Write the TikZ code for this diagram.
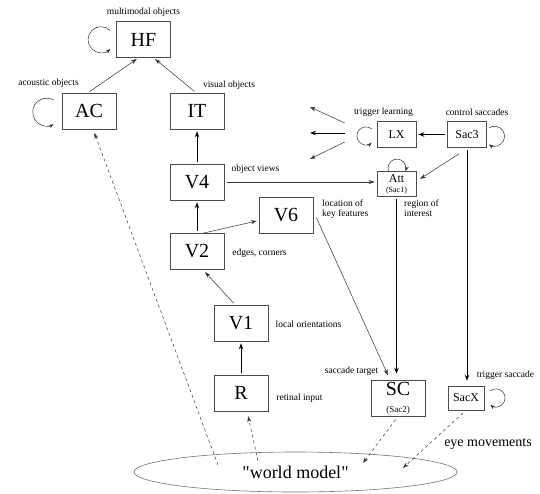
\documentclass[tikz,border=0pt]{standalone}
\usepackage{fontspec}
\setmainfont{Liberation Serif}[Ligatures=TeXOff]
\usetikzlibrary{arrows.meta,shapes.geometric}

\begin{document}
\begin{tikzpicture}[x=1pt, y=1pt,
    area/.style={draw=black!70, line width=0.6pt, minimum width=54pt, minimum height=36pt, inner sep=0pt, font=\fontsize{20}{22}\selectfont},
    smallarea/.style={draw=black!70, line width=0.6pt, minimum width=39pt, minimum height=26pt, inner sep=0pt, font=\fontsize{12}{13}\selectfont},
    note/.style={inner sep=0pt, font=\fontsize{9.5}{10}\selectfont, align=left},
    link/.style={draw=black!80, line width=0.5pt, -{Stealth[length=6pt,width=4pt]}},
    mainlink/.style={draw=black, line width=1pt, -{Stealth[length=6pt,width=4.5pt]}},
    selflink/.style={draw=black!80, line width=0.5pt, -{Stealth[length=5pt,width=3.5pt]}},
    eyelink/.style={draw=black!80, line width=0.5pt, dash pattern=on 3pt off 3pt, -{Stealth[length=6pt,width=4pt]}}]
    \useasboundingbox (0,0) rectangle (540,-493);
    % areas
    \node[area] (HF) at (143.5,-39.5) {HF};
    \node[area] (AC) at (89,-111) {AC};
    \node[area] (IT) at (197,-111) {IT};
    \node[area] (V4) at (197,-182) {V4};
    \node[area] (V6) at (286,-215.5) {V6};
    \node[area] (V2) at (197,-251.5) {V2};
    \node[area] (V1) at (241,-323) {V1};
    \node[area] (R) at (241,-393) {R};
    \node[area, align=center] (SC) at (398,-398) {SC\\[-5pt]{\fontsize{9}{9}\selectfont(Sac2)}};
    \node[smallarea] (LX) at (396.5,-134.5) {LX};
    \node[smallarea] (Sac3) at (467,-134.5) {Sac3};
    \node[smallarea, minimum height=25pt, align=center] (Att) at (396.5,-184) {Att\\[-3pt]{\fontsize{8}{8}\selectfont(Sac1)}};
    \node[smallarea, minimum width=36pt, minimum height=24pt] (SacX) at (466,-398) {SacX};
    \node[ellipse, draw=black!55, line width=0.6pt, minimum width=323pt, minimum height=40pt, inner sep=0pt, font=\fontsize{18}{20}\selectfont] (wm) at (295.5,-472) {"world model"};
    % labels
    \node[note] (lHF) at (143.5,-12) {multimodal objects};
    \node[note] (lAC) at (48.5,-83) {acoustic objects};
    \node[note] (lIT) at (229,-85) {visual objects};
    \node[note] (lLX) at (383.5,-112) {trigger learning};
    \node[note] (lSac3) at (477,-112) {control saccades};
    \node[note] (lV4) at (255.5,-169) {object views};
    \node[note, anchor=north west] (lV6) at (322,-200) {location of\\key features};
    \node[note, anchor=north west] (lAtt) at (404,-200) {region of\\interest};
    \node[note] (lV2) at (259.5,-253) {edges, corners};
    \node[note] (lV1) at (308.5,-324) {local orientations};
    \node[note] (lR) at (299.5,-398) {retinal input};
    \node[note] (lSC) at (351.5,-371) {saccade target};
    \node[note] (lSacX) at (505.5,-375) {trigger saccade};
    \node[note, font=\fontsize{14}{16}\selectfont] (lEye) at (488,-444) {eye movements};
    % free ends
    \coordinate (toAC) at (218,-465);
    \coordinate (toR) at (258,-461);
    \coordinate (fromSC) at (363,-463);
    \coordinate (fromSacX) at (403,-468);
    \foreach \i/\ey in {1/107, 2/133, 3/159} {
        \coordinate (out\i) at (310,-\ey);
    }
    % ventral and dorsal paths
    \draw[link, shorten <=2pt, shorten >=2pt] ([xshift=-1pt]AC.north) -- ([xshift=-5pt]HF.south);
    \draw[link, shorten <=2pt, shorten >=2pt] ([xshift=-1pt]IT.north) -- ([xshift=10pt]HF.south);
    \draw[mainlink, shorten <=2pt, shorten >=2pt] (V4.north) -- (IT.south);
    \draw[mainlink, shorten <=2pt, shorten >=2pt] (V2.north) -- (V4.south);
    \draw[link, shorten >=2pt] ([xshift=6pt]V2.north) -- ([yshift=-5pt]V6.west);
    \draw[link, shorten <=2pt, shorten >=3pt] ([xshift=-6pt]V1.north) -- ([xshift=6pt]V2.south);
    \draw[mainlink, shorten <=2pt, shorten >=2pt] (R.north) -- (V1.south);
    \draw[link, shorten <=3pt, shorten >=2pt] (V4.east) -- (V4.east -| Att.west);
    \draw[link, shorten >=5pt] ([shift={(3pt,-2pt)}]V6.east) -- ([xshift=-8pt]SC.north);
    % saccade control
    \draw[mainlink, shorten <=2pt, shorten >=6pt] (Att.south) -- (Att.south |- SC.north);
    \draw[link, shorten >=2pt] ([shift={(-8pt,-6pt)}]Sac3.south) -- ([shift={(2pt,4pt)}]Att.east);
    \draw[mainlink, shorten <=2pt, shorten >=5pt] (Sac3.south) -- (Sac3.south |- SacX.north);
    \draw[mainlink, shorten <=2pt, shorten >=2pt] (Sac3.west) -- (LX.east);
    \foreach \i/\dy/\s in {1/11.5/link, 2/1.5/mainlink, 3/-7.5/link} {
        \draw[\s] ([shift={(-32pt,\dy pt)}]LX.west) -- (out\i);
    }
    % world model
    \draw[eyelink, shorten <=4pt] (SC.south) -- (fromSC);
    \draw[eyelink, shorten <=4pt] (SacX.south) -- (fromSacX);
    \draw[eyelink, shorten >=5pt] (toR) -- ([xshift=6pt]R.south);
    \draw[eyelink, shorten >=4pt] (toAC) -- ([xshift=4pt]AC.south);
    % recurrent loops
    \draw[selflink] ([shift={(-6pt,9pt)}]HF.west) arc[start angle=45, end angle=315, radius=13pt];
    \draw[selflink] ([shift={(-8pt,11pt)}]AC.west) arc[start angle=60, end angle=300, radius=14pt];
    \draw[selflink] ([shift={(-5pt,5.5pt)}]LX.west) arc[start angle=50, end angle=310, radius=9pt];
    \draw[selflink] ([shift={(2pt,6.5pt)}]Sac3.east) arc[start angle=125, end angle=-125, radius=10pt];
    \draw[selflink] ([shift={(6pt,7pt)}]SacX.east) arc[start angle=130, end angle=-130, radius=9pt];
    \draw[selflink] ([shift={(-8pt,0pt)}]Att.north) arc[start angle=200, end angle=-20, radius=9pt];
\end{tikzpicture}
\end{document}
